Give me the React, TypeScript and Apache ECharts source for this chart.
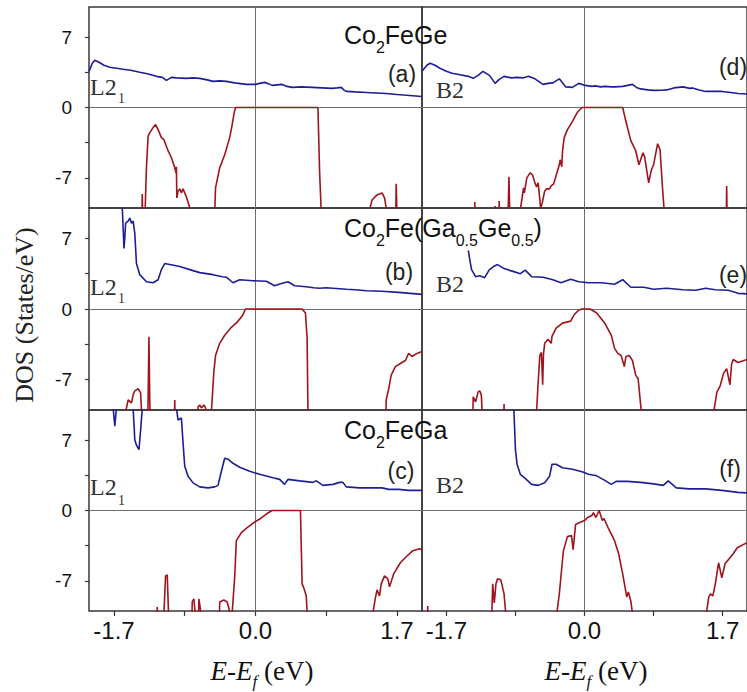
import React, { useEffect, useRef } from "react";
import * as echarts from "echarts";

// ---- axis ticks / labels ----
const xTickValues = [-1.7, -0.85, 0, 0.85, 1.7];
const xLabelValues = [-1.7, 0, 1.7];
const yTickValues = [-7, -3.5, 0, 3.5, 7];
const yLabelValues = [-7, 0, 7];

// ---- panel texts ----
const panelLetters = ["(a)", "(d)", "(b)", "(e)", "(c)", "(f)"];
const structureLeft = "L2";
const structureLeftSub = "1";
const structureRight = "B2";
const yAxisTitle = "DOS (States/eV)";

// ---- (a) Co2FeGe L21 ----
const upA = [[-2.0, 3.6], [-1.96, 4.4], [-1.93, 4.7], [-1.88, 4.5], [-1.82, 4.2], [-1.75, 4.0], [-1.67, 3.9], [-1.59, 3.8], [-1.5, 3.7], [-1.39, 3.5], [-1.3, 3.35], [-1.19, 3.1], [-1.12, 3.0], [-1.07, 2.7], [-1.01, 3.0], [-0.95, 2.95], [-0.83, 2.9], [-0.75, 2.95], [-0.67, 2.9], [-0.58, 2.75], [-0.51, 2.6], [-0.43, 2.65], [-0.35, 2.6], [-0.25, 2.45], [-0.11, 2.3], [0, 2.3], [0.05, 2.4], [0.11, 2.5], [0.16, 2.35], [0.2, 2.2], [0.26, 2.25], [0.32, 2.3], [0.38, 2.1], [0.44, 2.0], [0.55, 2.05], [0.68, 2.0], [0.8, 1.95], [0.92, 1.9], [0.98, 1.95], [1.03, 2.0], [1.06, 1.75], [1.09, 1.6], [1.2, 1.55], [1.33, 1.5], [1.45, 1.45], [1.57, 1.4], [1.7, 1.3], [1.85, 1.2], [2.0, 1.1]];
const dnA = [[-2.0, -14], [-1.37, -14], [-1.36, -8.6], [-1.35, -14], [-1.34, -14], [-1.31, -6], [-1.29, -2.85], [-1.27, -2.5], [-1.23, -2.0], [-1.2, -1.7], [-1.17, -2.2], [-1.13, -3.0], [-1.1, -3.2], [-1.05, -4.3], [-1.01, -5.0], [-0.97, -6.0], [-0.955, -6.5], [-0.95, -5.9], [-0.945, -9.0], [-0.93, -8.3], [-0.91, -8.1], [-0.89, -8.5], [-0.87, -8.1], [-0.83, -8.9], [-0.77, -10.5], [-0.76, -14], [-0.5, -14], [-0.49, -10.5], [-0.48, -8.0], [-0.43, -6.0], [-0.37, -4.7], [-0.31, -3.0], [-0.28, -1.7], [-0.26, -0.7], [-0.24, 0], [0.75, 0], [0.77, -6.4], [0.79, -10.5], [0.8, -14], [1.36, -14], [1.37, -10.2], [1.4, -9.2], [1.46, -8.7], [1.52, -8.5], [1.55, -9.0], [1.58, -10.5], [1.59, -14], [1.68, -14], [1.69, -7.6], [1.71, -14], [2.0, -14]];

// ---- (d) Co2FeGe B2 ----
const upD = [[-2.0, 3.6], [-1.98, 3.8], [-1.94, 4.2], [-1.9, 4.4], [-1.84, 4.2], [-1.78, 3.9], [-1.7, 3.6], [-1.63, 3.4], [-1.53, 3.25], [-1.43, 3.1], [-1.37, 2.9], [-1.31, 3.2], [-1.25, 3.6], [-1.17, 3.2], [-1.1, 2.4], [-1.05, 2.8], [-0.99, 3.1], [-0.9, 2.95], [-0.83, 3.0], [-0.75, 2.95], [-0.69, 3.1], [-0.61, 2.85], [-0.51, 2.3], [-0.45, 2.4], [-0.39, 2.45], [-0.31, 2.85], [-0.23, 2.05], [-0.15, 2.0], [-0.07, 2.4], [0.01, 2.2], [0.09, 2.1], [0.13, 2.15], [0.2, 2.05], [0.25, 2.1], [0.33, 2.05], [0.37, 2.05], [0.47, 2.1], [0.53, 2.2], [0.59, 2.3], [0.64, 2.0], [0.69, 1.85], [0.78, 1.75], [0.85, 1.7], [0.95, 1.72], [1.01, 1.75], [1.1, 1.95], [1.21, 2.05], [1.3, 1.9], [1.33, 1.95], [1.41, 1.75], [1.49, 1.6], [1.6, 1.6], [1.69, 1.6], [1.8, 1.5], [1.89, 1.4], [2.0, 1.35]];
const dnD = [[-2.0, -14], [-1.36, -14], [-1.35, -9.4], [-1.34, -14], [-1.11, -14], [-1.1, -9.8], [-1.09, -14], [-1.06, -14], [-1.05, -9.3], [-1.04, -14], [-0.95, -14], [-0.93, -6.9], [-0.91, -14], [-0.8, -14], [-0.79, -10.2], [-0.75, -8.0], [-0.74, -8.5], [-0.71, -7.0], [-0.67, -6.5], [-0.64, -6.7], [-0.61, -7.5], [-0.59, -7.9], [-0.57, -7.5], [-0.54, -10.0], [-0.52, -9.5], [-0.49, -8.3], [-0.47, -8.1], [-0.43, -8.1], [-0.41, -7.8], [-0.38, -7.6], [-0.35, -6.8], [-0.31, -5.7], [-0.3, -5.2], [-0.28, -5.9], [-0.27, -4.3], [-0.25, -3.0], [-0.21, -2.2], [-0.15, -1.4], [-0.09, -0.5], [-0.03, 0], [0.47, 0], [0.51, -1.4], [0.57, -3.3], [0.63, -4.3], [0.67, -5.7], [0.72, -4.5], [0.74, -4.9], [0.79, -7.5], [0.82, -6.3], [0.85, -5.7], [0.9, -3.6], [0.93, -4.2], [0.96, -8.0], [0.98, -10.2], [0.99, -14], [1.74, -14], [1.75, -7.8], [1.76, -14], [2.0, -14]];

// ---- (b) Co2Fe(Ga0.5Ge0.5) L21 ----
const upB = [[-2.0, 15], [-1.61, 15], [-1.6, 10.0], [-1.59, 8.0], [-1.58, 6.0], [-1.57, 7.0], [-1.56, 8.5], [-1.53, 8.7], [-1.51, 9.0], [-1.49, 8.5], [-1.47, 8.7], [-1.45, 7.5], [-1.43, 4.5], [-1.39, 3.4], [-1.31, 2.7], [-1.23, 2.6], [-1.17, 2.9], [-1.13, 3.9], [-1.09, 4.5], [-1.03, 4.4], [-0.91, 4.2], [-0.79, 3.9], [-0.67, 3.6], [-0.51, 3.4], [-0.4, 3.2], [-0.35, 3.15], [-0.27, 2.6], [-0.19, 2.9], [-0.03, 2.8], [0.13, 2.75], [0.23, 2.3], [0.3, 2.5], [0.39, 2.7], [0.47, 2.3], [0.61, 2.2], [0.7, 2.1], [0.77, 2.05], [0.85, 2.1], [0.93, 2.05], [1.09, 1.95], [1.2, 1.9], [1.33, 1.8], [1.52, 1.75], [1.72, 1.65], [2.0, 1.45]];
const dnB = [[-2.0, -14], [-1.57, -14], [-1.56, -10.2], [-1.53, -9.0], [-1.49, -9.3], [-1.47, -8.5], [-1.45, -8.1], [-1.41, -7.9], [-1.38, -8.3], [-1.37, -10.0], [-1.36, -14], [-1.3, -14], [-1.29, -9], [-1.28, -2.75], [-1.27, -9], [-1.26, -14], [-0.98, -14], [-0.97, -9.0], [-0.96, -14], [-0.7, -14], [-0.69, -9.7], [-0.67, -9.5], [-0.65, -9.8], [-0.62, -9.5], [-0.6, -9.8], [-0.58, -14], [-0.54, -14], [-0.53, -10.2], [-0.5, -6.2], [-0.48, -4.6], [-0.43, -3.4], [-0.37, -2.6], [-0.3, -1.9], [-0.22, -1.3], [-0.16, -0.7], [-0.12, 0], [0.56, 0], [0.6, -0.4], [0.62, -2.9], [0.63, -10.2], [0.64, -14], [1.56, -14], [1.57, -9.0], [1.6, -7.9], [1.63, -6.55], [1.68, -5.7], [1.74, -5.4], [1.8, -5.1], [1.84, -4.4], [1.88, -4.7], [1.94, -4.4], [2.0, -4.2]];

// ---- (e) Co2Fe(Ga0.5Ge0.5) B2 ----
const upE = [[-1.43, 5.8], [-1.41, 4.8], [-1.39, 3.9], [-1.34, 3.2], [-1.29, 3.3], [-1.23, 3.1], [-1.17, 3.9], [-1.12, 4.2], [-1.07, 4.4], [-0.99, 4.0], [-0.87, 3.7], [-0.79, 3.5], [-0.73, 3.85], [-0.65, 3.2], [-0.51, 3.15], [-0.39, 2.9], [-0.29, 2.6], [-0.17, 2.95], [-0.07, 2.7], [0.05, 2.6], [0.21, 2.6], [0.37, 2.45], [0.47, 2.9], [0.57, 2.15], [0.73, 2.15], [0.85, 1.95], [1.01, 2.05], [1.21, 1.9], [1.37, 1.85], [1.49, 2.05], [1.61, 1.9], [1.77, 1.85], [1.89, 1.55], [2.0, 1.5]];
const dnE = [[-2.0, -14], [-1.38, -14], [-1.37, -8.7], [-1.34, -9.2], [-1.31, -8.2], [-1.29, -8.1], [-1.27, -8.5], [-1.26, -10.2], [-1.25, -14], [-1.0, -14], [-0.99, -9.4], [-0.98, -14], [-0.6, -14], [-0.59, -10.2], [-0.57, -7.2], [-0.55, -4.6], [-0.53, -4.3], [-0.515, -7.5], [-0.505, -4.5], [-0.49, -3.4], [-0.45, -3.0], [-0.43, -3.2], [-0.41, -3.4], [-0.4, -2.7], [-0.35, -1.9], [-0.27, -1.4], [-0.17, -1.2], [-0.13, -0.6], [-0.07, -0.1], [-0.03, 0], [0.07, 0], [0.15, -0.4], [0.25, -1.4], [0.33, -2.6], [0.37, -3.9], [0.41, -4.4], [0.45, -4.6], [0.49, -5.7], [0.51, -4.7], [0.55, -4.6], [0.59, -5.1], [0.63, -6.55], [0.66, -6.9], [0.69, -9.4], [0.7, -10.2], [0.71, -14], [1.58, -14], [1.59, -10.2], [1.63, -8.2], [1.67, -7.6], [1.71, -6.4], [1.75, -5.9], [1.79, -7.5], [1.81, -5.5], [1.83, -5.0], [1.89, -5.3], [2.0, -5.0]];

// ---- (c) Co2FeGa L21 ----
const upC = [[-2.0, 15], [-1.72, 15], [-1.71, 10.2], [-1.69, 8.4], [-1.67, 10.2], [-1.66, 15], [-1.48, 15], [-1.47, 10.2], [-1.45, 7.05], [-1.43, 6.5], [-1.4, 6.05], [-1.38, 8.0], [-1.36, 10.2], [-1.35, 15], [-0.96, 15], [-0.95, 10.2], [-0.93, 9.0], [-0.89, 9.2], [-0.87, 6.7], [-0.85, 4.4], [-0.81, 3.4], [-0.75, 2.75], [-0.67, 2.35], [-0.57, 2.25], [-0.49, 2.35], [-0.45, 2.5], [-0.41, 3.9], [-0.37, 5.2], [-0.33, 5.1], [-0.27, 4.7], [-0.19, 4.3], [-0.07, 3.9], [0.05, 3.6], [0.21, 3.25], [0.29, 3.1], [0.35, 2.6], [0.39, 3.1], [0.53, 2.95], [0.69, 2.8], [0.73, 2.95], [0.81, 2.5], [0.93, 2.6], [1.01, 2.8], [1.05, 2.8], [1.09, 2.35], [1.25, 2.25], [1.52, 2.25], [1.6, 2.1], [1.72, 2.1], [1.84, 2.0], [2.0, 2.0]];
const dnC = [[-2.0, -14], [-1.19, -14], [-1.18, -9.6], [-1.17, -14], [-1.11, -14], [-1.1, -10.2], [-1.08, -6.5], [-1.06, -6.4], [-1.045, -10.2], [-1.04, -14], [-0.77, -14], [-0.76, -9.1], [-0.74, -8.8], [-0.725, -10.2], [-0.72, -14], [-0.69, -14], [-0.68, -8.8], [-0.655, -10.2], [-0.65, -14], [-0.44, -14], [-0.43, -9.1], [-0.38, -8.9], [-0.34, -9.1], [-0.305, -10.2], [-0.3, -14], [-0.285, -14], [-0.28, -10.2], [-0.25, -6.6], [-0.23, -3.0], [-0.17, -2.2], [-0.1, -1.7], [-0.02, -1.2], [0.05, -0.85], [0.13, -0.35], [0.2, 0], [0.54, 0], [0.56, -7.3], [0.58, -7.7], [0.61, -8.5], [0.62, -10.2], [0.63, -14], [1.4, -14], [1.41, -10.2], [1.44, -8.7], [1.46, -7.9], [1.49, -8.5], [1.51, -7.3], [1.55, -6.5], [1.59, -6.8], [1.61, -7.6], [1.66, -6.3], [1.74, -5.2], [1.81, -4.6], [1.89, -4.0], [1.97, -3.8], [2.0, -3.9]];

// ---- (f) Co2FeGa B2 ----
const upF = [[-2.0, 15], [-0.88, 15], [-0.87, 10.2], [-0.85, 6.05], [-0.83, 4.6], [-0.79, 3.6], [-0.73, 3.2], [-0.65, 2.6], [-0.57, 2.5], [-0.49, 2.75], [-0.43, 3.4], [-0.4, 4.6], [-0.35, 4.6], [-0.27, 4.25], [-0.15, 4.1], [-0.03, 3.85], [0.05, 3.6], [0.15, 3.45], [0.25, 3.0], [0.33, 2.6], [0.39, 2.9], [0.53, 2.9], [0.69, 2.8], [0.85, 2.65], [0.97, 2.5], [1.03, 2.95], [1.13, 2.25], [1.29, 2.15], [1.49, 2.15], [1.69, 2.0], [1.89, 1.8], [2.0, 1.75]];
const dnF = [[-2.0, -14], [-1.94, -14], [-1.93, -9.5], [-1.92, -14], [-1.15, -14], [-1.14, -10.2], [-1.13, -7.3], [-1.11, -9.2], [-1.09, -7.3], [-1.07, -6.8], [-1.03, -6.9], [-0.99, -8.3], [-0.97, -10.2], [-0.96, -14], [-0.35, -14], [-0.34, -10.2], [-0.31, -8.3], [-0.26, -4.0], [-0.21, -2.6], [-0.16, -2.5], [-0.14, -3.9], [-0.11, -1.4], [-0.06, -1.2], [0, -1.0], [0.04, -0.7], [0.09, -0.5], [0.11, -0.2], [0.14, -0.7], [0.18, 0], [0.22, -1.0], [0.24, -0.8], [0.29, -1.7], [0.37, -3.0], [0.42, -4.3], [0.47, -6.3], [0.52, -8.6], [0.54, -8.1], [0.57, -9.0], [0.59, -10.2], [0.6, -14], [1.49, -14], [1.5, -10.2], [1.53, -8.6], [1.55, -8.3], [1.58, -8.5], [1.61, -7.3], [1.65, -5.2], [1.69, -6.7], [1.73, -5.3], [1.78, -4.8], [1.83, -4.3], [1.88, -3.7], [2.0, -3.2]];

// panel order: row-major (row1: a,d; row2: b,e; row3: c,f)
const upCurves = [upA, upD, upB, upE, upC, upF];
const dnCurves = [dnA, dnD, dnB, dnE, dnC, dnF];

const SANS = "Liberation Sans, Arial, sans-serif";
const SERIF = "Liberation Serif, Times New Roman, serif";
const BLUE = "#1e1e96";
const RED = "#a0141e";
const FRAME = "#383838";
const ZERO = "#6e6e6e";

const GRID_LEFTS = [89, 422];
const GRID_WIDTHS = [333, 334];
const GRID_TOPS = [7, 208, 410];
const GRID_HEIGHTS = [201, 202, 201];

export default function App() {
  const ref = useRef<HTMLDivElement>(null);

  useEffect(() => {
    if (!ref.current) return;
    const chart = echarts.init(ref.current, undefined, { renderer: "svg" });

    const grids: any[] = [];
    const xAxes: any[] = [];
    const yAxes: any[] = [];
    const zeroX: any[] = [];
    const zeroY: any[] = [];
    const series: any[] = [];

    for (let r = 0; r < 3; r++) {
      for (let c = 0; c < 2; c++) {
        const idx = r * 2 + c;
        grids.push({
          left: GRID_LEFTS[c],
          top: GRID_TOPS[r],
          width: GRID_WIDTHS[c],
          height: GRID_HEIGHTS[r],
          show: true,
          borderColor: FRAME,
          borderWidth: 1.5,
          backgroundColor: "transparent",
        });
        const bottomRow = r === 2;
        xAxes.push({
          gridIndex: idx,
          type: "value",
          min: -2,
          max: 2,
          axisLine: { show: false, onZero: false },
          splitLine: { show: false },
          axisTick: {
            show: bottomRow,
            customValues: xTickValues,
            length: 5,
            inside: false,
            lineStyle: { color: FRAME, width: 1.2 },
          },
          axisLabel: {
            show: bottomRow,
            customValues: xLabelValues,
            formatter: (v: number) => v.toFixed(1),
            fontFamily: SANS,
            fontSize: 24,
            color: "#111",
            margin: 7,
          },
        });
        yAxes.push({
          gridIndex: idx,
          type: "value",
          min: -10,
          max: 10,
          axisLine: { show: false, onZero: false },
          splitLine: { show: false },
          axisTick: {
            show: c === 0,
            customValues: yTickValues,
            length: 4,
            inside: false,
            lineStyle: { color: FRAME, width: 1.2 },
          },
          axisLabel: {
            show: c === 0,
            customValues: yLabelValues,
            formatter: (v: number) => String(v),
            fontFamily: SANS,
            fontSize: 19,
            color: "#111",
            margin: 17,
          },
        });
        // axes that only draw the zero reference lines (E = 0 and DOS = 0)
        zeroX.push({
          gridIndex: idx,
          type: "value",
          min: -2,
          max: 2,
          axisLine: { show: true, onZero: true, onZeroAxisIndex: idx, lineStyle: { color: ZERO, width: 1 } },
          axisTick: { show: false },
          axisLabel: { show: false },
          splitLine: { show: false },
        });
        zeroY.push({
          gridIndex: idx,
          type: "value",
          min: -10,
          max: 10,
          axisLine: { show: true, onZero: true, onZeroAxisIndex: idx, lineStyle: { color: ZERO, width: 1 } },
          axisTick: { show: false },
          axisLabel: { show: false },
          splitLine: { show: false },
        });
        series.push({
          type: "line",
          xAxisIndex: idx,
          yAxisIndex: idx,
          data: dnCurves[idx],
          showSymbol: false,
          symbol: "none",
          clip: true,
          z: 3,
          lineStyle: { color: RED, width: 1.6 },
        });
        series.push({
          type: "line",
          xAxisIndex: idx,
          yAxisIndex: idx,
          data: upCurves[idx],
          showSymbol: false,
          symbol: "none",
          clip: true,
          z: 3,
          lineStyle: { color: BLUE, width: 1.6 },
        });
      }
    }

    const titleRich = {
      a: { fontFamily: SANS, fontSize: 25, lineHeight: 25, verticalAlign: "top", fill: "#111" },
      s: { fontFamily: SANS, fontSize: 16, lineHeight: 33, verticalAlign: "bottom", fill: "#111" },
    };
    const titles = [
      { text: "{a|Co}{s|2}{a|FeGe}", y: 22 },
      { text: "{a|Co}{s|2}{a|Fe(Ga}{s|0.5}{a|Ge}{s|0.5}{a|)}", y: 215 },
      { text: "{a|Co}{s|2}{a|FeGa}", y: 417 },
    ];
    const letterPos = [[402, 74], [733, 67], [399, 272], [733, 275], [401, 471], [730, 469]];
    const lRowY = [87, 287, 487];
    const subRowY = [98.5, 298.5, 500];
    const bRowY = [90, 284, 485];

    const graphics: any[] = [];
    titles.forEach((t) => {
      graphics.push({
        type: "text",
        x: 344,
        y: t.y,
        z: 10,
        style: { text: t.text, rich: titleRich, align: "left", verticalAlign: "top" },
      });
    });
    panelLetters.forEach((l, i) => {
      graphics.push({
        type: "text",
        x: letterPos[i][0],
        y: letterPos[i][1],
        z: 10,
        style: { text: l, fontFamily: SANS, fontSize: 23, fill: "#222", align: "center", verticalAlign: "middle" },
      });
    });
    for (let r = 0; r < 3; r++) {
      graphics.push({
        type: "text",
        x: 90,
        y: lRowY[r],
        z: 10,
        style: { text: structureLeft, fontFamily: SERIF, fontSize: 24, fill: "#333", align: "left", verticalAlign: "middle" },
      });
      graphics.push({
        type: "text",
        x: 118,
        y: subRowY[r],
        z: 10,
        style: { text: structureLeftSub, fontFamily: SERIF, fontSize: 14, fill: "#333", align: "left", verticalAlign: "middle" },
      });
      graphics.push({
        type: "text",
        x: 436,
        y: bRowY[r],
        z: 10,
        style: { text: structureRight, fontFamily: SERIF, fontSize: 24, fill: "#333", align: "left", verticalAlign: "middle" },
      });
    }
    graphics.push({
      type: "text",
      x: 24,
      y: 315,
      rotation: Math.PI / 2,
      z: 10,
      style: { text: yAxisTitle, fontFamily: SERIF, fontSize: 26, fill: "#222", align: "center", verticalAlign: "middle" },
    });
    const xNameRich = {
      i: { fontFamily: SERIF, fontStyle: "italic", fontSize: 27, lineHeight: 27, verticalAlign: "top", fill: "#111" },
      fs: { fontFamily: SERIF, fontStyle: "italic", fontSize: 17, lineHeight: 33, verticalAlign: "bottom", fill: "#111" },
      n: { fontFamily: SERIF, fontSize: 27, lineHeight: 27, verticalAlign: "top", fill: "#111" },
    };
    [262, 596].forEach((cx) => {
      graphics.push({
        type: "text",
        x: cx,
        y: 657,
        z: 10,
        style: { text: "{i|E-E}{fs|f}{n| (eV)}", rich: xNameRich, align: "center", verticalAlign: "top" },
      });
    });

    chart.setOption({
      animation: false,
      backgroundColor: "#ffffff",
      grid: grids,
      xAxis: xAxes.concat(zeroX),
      yAxis: yAxes.concat(zeroY),
      series,
      graphic: graphics,
    });

    return () => {
      chart.dispose();
    };
  }, []);

  return (
    <div
      ref={ref}
      style={{ position: "absolute", left: 0, top: 0, width: 747, height: 692, background: "#fff" }}
    />
  );
}
